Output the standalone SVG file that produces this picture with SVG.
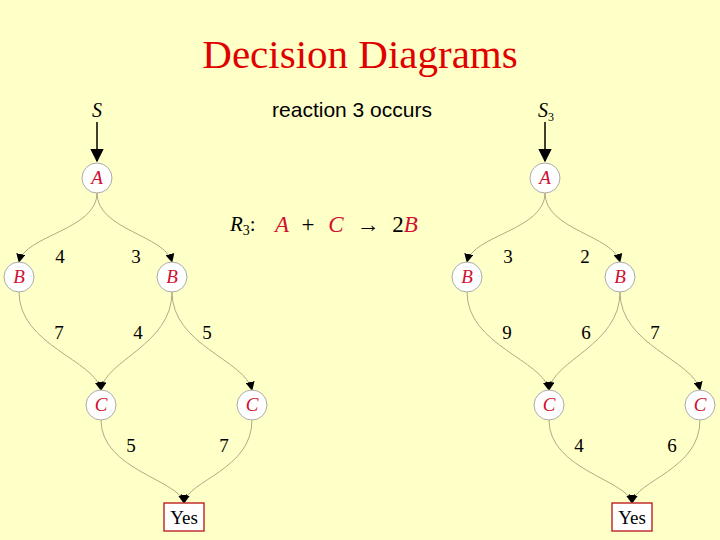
<svg xmlns="http://www.w3.org/2000/svg" width="720" height="540" viewBox="0 0 720 540">
<defs>
<marker id="ah" viewBox="0 0 10 10" refX="9" refY="5" markerWidth="9" markerHeight="9" orient="auto"><path d="M0,0 L10,5 L0,10 z" fill="#000"/></marker>
<style>
.n circle{fill:#fff;stroke:#aaa;stroke-width:1}
.n text{font-family:"Liberation Serif",serif;font-style:italic;font-size:19px;fill:#d01030;text-anchor:middle}
.e path{fill:none;stroke:#b0aa88;stroke-width:1;marker-end:url(#ah)}
.l{font-family:"Liberation Serif",serif;font-size:19px;text-anchor:middle;fill:#000}
.yes rect{fill:#fff;stroke:#c03030;stroke-width:1.5}
.yes text{font-family:"Liberation Serif",serif;font-size:19px;text-anchor:middle}
.eq{font-family:"Liberation Serif",serif;font-size:23px;text-anchor:middle}
</style>
</defs>
<rect width="720" height="540" fill="#ffffc8"/>
<text x="360" y="68" font-family="Liberation Serif,serif" font-size="41" fill="#e00000" text-anchor="middle">Decision Diagrams</text>
<text x="352" y="117" font-family="Liberation Sans,sans-serif" font-size="21" text-anchor="middle">reaction 3 occurs</text>
<text x="230" y="231" font-family="Liberation Serif,serif" font-size="21" font-style="italic">R<tspan font-size="14" dy="4" font-style="normal">3</tspan><tspan dy="-4" font-style="normal">:</tspan></text>
<text x="282" y="232" class="eq" fill="#d01030" font-style="italic">A</text>
<text x="308" y="232" class="eq">+</text>
<text x="336" y="232" class="eq" fill="#d01030" font-style="italic">C</text>
<text x="368" y="232" class="eq">→</text>
<text x="405" y="232" class="eq">2<tspan fill="#d01030" font-style="italic">B</tspan></text>
<text x="97" y="117" font-family="Liberation Serif,serif" font-size="20" font-style="italic" text-anchor="middle">S</text>
<text x="538" y="117" font-family="Liberation Serif,serif" font-size="20" font-style="italic">S<tspan font-size="12" dy="4" font-style="normal">3</tspan></text>
<g id="connectors">
<g stroke="#000" stroke-width="1.5" fill="none"><path d="M97,122 V161" marker-end="url(#ah)"/><path d="M545,122 V161" marker-end="url(#ah)"/></g>
<g class="e">
<path d="M97,193 C97,230 25,235 19,262"/>
<path d="M97,193 C97,230 165,235 172,262"/>
<path d="M19,292 C19,345 95,360 101,390"/>
<path d="M172,292 C172,345 105,360 101,390"/>
<path d="M172,292 C172,345 245,360 252,390"/>
<path d="M101,420 C101,470 180,480 184,503"/>
<path d="M252,420 C252,470 188,480 184,503"/>
<path d="M545,193 C545,230 473,235 467,262"/>
<path d="M545,193 C545,230 613,235 620,262"/>
<path d="M467,292 C467,345 543,360 549,390"/>
<path d="M620,292 C620,345 553,360 549,390"/>
<path d="M620,292 C620,345 693,360 700,390"/>
<path d="M549,420 C549,470 628,480 632,503"/>
<path d="M700,420 C700,470 636,480 632,503"/>
</g>
</g>
<g class="l">
<text x="60" y="263" class="l">4</text><text x="136" y="263" class="l">3</text>
<text x="59" y="339" class="l">7</text><text x="138" y="339" class="l">4</text><text x="207" y="339" class="l">5</text>
<text x="131" y="452" class="l">5</text><text x="224" y="452" class="l">7</text>
<text x="508" y="263" class="l">3</text><text x="585" y="263" class="l">2</text>
<text x="507" y="339" class="l">9</text><text x="586" y="339" class="l">6</text><text x="655" y="339" class="l">7</text>
<text x="579" y="452" class="l">4</text><text x="672" y="452" class="l">6</text>
</g>
<g id="A1" class="n"><circle cx="97" cy="178" r="15"/><text x="97" y="184">A</text></g>
<g id="B1" class="n"><circle cx="19" cy="277" r="15"/><text x="19" y="283">B</text></g>
<g id="B2" class="n"><circle cx="172" cy="277" r="15"/><text x="172" y="283">B</text></g>
<g id="C1" class="n"><circle cx="101" cy="405" r="15"/><text x="101" y="411">C</text></g>
<g id="C2" class="n"><circle cx="252" cy="405" r="15"/><text x="252" y="411">C</text></g>
<g id="Yes1" class="yes"><rect x="164" y="503" width="40" height="28"/><text x="184" y="524">Yes</text></g>
<g id="A2" class="n"><circle cx="545" cy="178" r="15"/><text x="545" y="184">A</text></g>
<g id="B3" class="n"><circle cx="467" cy="277" r="15"/><text x="467" y="283">B</text></g>
<g id="B4" class="n"><circle cx="620" cy="277" r="15"/><text x="620" y="283">B</text></g>
<g id="C3" class="n"><circle cx="549" cy="405" r="15"/><text x="549" y="411">C</text></g>
<g id="C4" class="n"><circle cx="700" cy="405" r="15"/><text x="700" y="411">C</text></g>
<g id="Yes2" class="yes"><rect x="612" y="503" width="40" height="28"/><text x="632" y="524">Yes</text></g>
</svg>
